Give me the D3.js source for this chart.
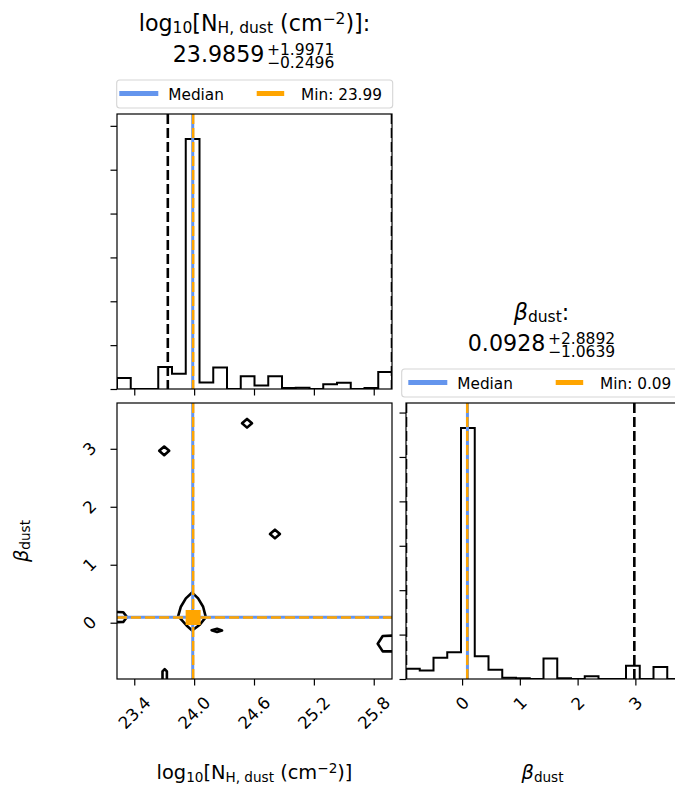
<!DOCTYPE html>
<html><head><meta charset="utf-8">
<script src="https://cdn.jsdelivr.net/npm/d3@7"></script>
<style>
body{margin:0;background:#fff}
svg{display:block}
text{font-family:"DejaVu Sans",sans-serif;fill:#000;white-space:pre}
</style>
</head><body>
<svg id="c" width="675" height="792"></svg>
<script>
// ---------------- data ----------------
const nhRange = [23.227, 25.983];
const betaRange = [-0.971, 3.79];
const nhTicks = [23.4, 24.0, 24.6, 25.2, 25.8];
const betaTicks = [0, 1, 2, 3];
const histYTicks = [0, 1, 2, 3, 4, 5, 6];
// 20-bin step histograms (relative density)
const nhHist = [0.25,0,0,0.50,0.35,5.70,0.15,0.49,0,0.29,0.08,0.29,0.02,0.03,0,0.11,0.14,0,0.02,0.39];
const betaHist = [0.23,0.19,0.48,0.60,5.65,0.51,0.21,0.03,0.015,0,0.46,0.015,0,0.06,0,0,0.30,0,0.27,0];
const nhMedian = 23.9859, nhPlus = 1.9971, nhMinus = 0.2496, nhMin = 23.99;
const betaMedian = 0.0928, betaPlus = 2.8892, betaMinus = 1.0639, betaMin = 0.09;
// 2D contour loops [log10 NH, beta]
const contours = [
  [[23.98,0.52],[24.04,0.42],[24.09,0.276],[24.117,0.097],[24.057,-0.035],[23.98,-0.133],[23.924,-0.047],[23.84,0.115],[23.867,0.276],[23.917,0.42]],
  [[23.65,2.965],[23.70,3.04],[23.75,2.965],[23.70,2.89]],
  [[24.48,3.44],[24.53,3.515],[24.58,3.44],[24.53,3.365]],
  [[24.76,1.53],[24.81,1.605],[24.86,1.53],[24.81,1.455]],
  [[24.175,-0.13],[24.23,-0.105],[24.28,-0.135],[24.23,-0.16]],
  [[23.683,-1.05],[23.683,-0.84],[23.705,-0.80],[23.727,-0.84],[23.727,-1.05]],
  [[23.20,0.185],[23.29,0.18],[23.327,0.097],[23.29,0.012],[23.20,0.01]],
  [[26.01,-0.22],[25.89,-0.23],[25.84,-0.362],[25.89,-0.495],[26.01,-0.495]]
];

// ---------------- layout ----------------
const BLUE = "#6495ED", ORANGE = "#FFA500";
const P1 = {x:117, y:114, w:275, h:275};
const P2 = {x:117, y:403, w:275, h:276};
const P3 = {x:406, y:403, w:275, h:276};
const svg = d3.select("#c");
const TICK = 6.5, TF = 16.7, LF = 19.4, TTF = 22.2, LEGF = 15.3;

const xNH = d3.scaleLinear().domain(nhRange).range([P1.x, P1.x+P1.w]);
const yH1 = d3.scaleLinear().domain([0, 1.1*d3.max(nhHist)]).range([P1.y+P1.h, P1.y]);
const yB = d3.scaleLinear().domain(betaRange).range([P2.y+P2.h, P2.y]);
const xB = d3.scaleLinear().domain(betaRange).range([P3.x, P3.x+P3.w]);
const yH3 = d3.scaleLinear().domain([0, 1.1*d3.max(betaHist)]).range([P3.y+P3.h, P3.y]);

function clip(id, p){
  svg.append("clipPath").attr("id", id).append("rect")
    .attr("x", p.x).attr("y", p.y).attr("width", p.w).attr("height", p.h);
  return svg.append("g").attr("clip-path", `url(#${id})`);
}
function spine(p){
  svg.append("rect").attr("x",p.x).attr("y",p.y).attr("width",p.w).attr("height",p.h)
    .attr("fill","none").attr("stroke","#000").attr("stroke-width",1.2);
}
function ticksBottom(scale, vals, p){
  const ax = d3.axisBottom(scale).tickValues(vals).tickSize(TICK).tickFormat("").tickSizeOuter(0);
  const g = svg.append("g").attr("transform",`translate(0,${p.y+p.h})`).call(ax);
  g.select(".domain").remove();
  g.selectAll("line").attr("stroke","#000").attr("stroke-width",1.2);
}
function ticksLeft(scale, vals, p){
  const ax = d3.axisLeft(scale).tickValues(vals).tickSize(TICK).tickFormat("").tickSizeOuter(0);
  const g = svg.append("g").attr("transform",`translate(${p.x},0)`).call(ax);
  g.select(".domain").remove();
  g.selectAll("line").attr("stroke","#000").attr("stroke-width",1.2);
}
function rotLabel(cx, cy, str, mode){
  // mode 'x': cy is top of rotated bbox ; mode 'y': cx is right of rotated bbox
  const t = svg.append("text").attr("font-size",TF).attr("text-anchor","middle")
    .attr("dy", (0.365*TF).toFixed(2)).text(str);
  const w = t.node().getComputedTextLength();
  const rot = (w + 0.73*TF)*0.7071;
  let x = cx, y = cy;
  if (mode === 'x') y = cy + rot/2; else x = cx - rot/2;
  t.attr("transform", `translate(${x},${y}) rotate(-45)`);
}
function mathText(x, y, parts, size, anchor, rotate){
  const t = svg.append("text").attr("font-size",size).attr("text-anchor",anchor||"middle");
  if (rotate) t.attr("transform",`translate(${x},${y}) rotate(${rotate})`);
  else t.attr("x",x).attr("y",y);
  let cur = 0;
  parts.forEach(([str, kind, style]) => {
    let off = 0, fs = size;
    if (kind === "sub"){ off = 0.12*size; fs = 0.7*size; }
    if (kind === "sup"){ off = -0.31*size; fs = 0.7*size; }
    t.append("tspan").attr("dy", (off-cur).toFixed(2)).attr("font-size", fs)
      .attr("font-style", style || null).text(str);
    cur = off;
  });
}
function pmLine(cx, base, main, sup, sub){
  const tm = svg.append("text").attr("font-size",TTF).text(main);
  const ts = svg.append("text").attr("font-size",0.7*TTF).text(sup);
  const tb = svg.append("text").attr("font-size",0.7*TTF).text(sub);
  const wm = tm.node().getComputedTextLength();
  const ws = Math.max(ts.node().getComputedTextLength(), tb.node().getComputedTextLength());
  const gap = 2.5;
  const x0 = cx - (wm + gap + ws)/2;
  tm.attr("x",x0).attr("y",base);
  ts.attr("x",x0+wm+gap).attr("y",base-0.32*TTF);
  tb.attr("x",x0+wm+gap).attr("y",base+0.26*TTF);
}
function legend(p, boxX, minLabel, offs){
  const top = p.y - 34, w = 276, h = 28;
  svg.append("rect").attr("x",boxX).attr("y",top).attr("width",w).attr("height",h)
    .attr("rx",3).attr("fill","#fff").attr("stroke","#d5d5d5").attr("stroke-width",1.1);
  const ly = top + 13.5;
  svg.append("line").attr("x1",boxX+offs[0]).attr("x2",boxX+offs[0]+39).attr("y1",ly).attr("y2",ly)
    .attr("stroke",BLUE).attr("stroke-width",5);
  svg.append("text").attr("x",boxX+offs[1]).attr("y",top+20).attr("font-size",LEGF).text("Median");
  svg.append("line").attr("x1",boxX+offs[2]).attr("x2",boxX+offs[2]+27.5).attr("y1",ly).attr("y2",ly)
    .attr("stroke",ORANGE).attr("stroke-width",5);
  svg.append("text").attr("x",boxX+offs[3]).attr("y",top+20).attr("font-size",LEGF).text(minLabel);
}
function stepPath(vals, range, xs, ys){
  const n = vals.length, step = (range[1]-range[0])/n;
  const pts = [[range[0],0]];
  vals.forEach((v,i)=>{ pts.push([range[0]+i*step, v]); pts.push([range[0]+(i+1)*step, v]); });
  pts.push([range[1],0]);
  return d3.line().x(d=>xs(d[0])).y(d=>ys(d[1]))(pts);
}
function vline(g, x, y0, y1, color, w, dash){
  g.append("line").attr("x1",x).attr("x2",x).attr("y1",y0).attr("y2",y1)
    .attr("stroke",color).attr("stroke-width",w).attr("stroke-dasharray",dash||null);
}
function hline(g, y, x0, x1, color, w, dash){
  g.append("line").attr("x1",x0).attr("x2",x1).attr("y1",y).attr("y2",y)
    .attr("stroke",color).attr("stroke-width",w).attr("stroke-dasharray",dash||null);
}
const DASH = "10,4";

// ---------------- panel 1: NH histogram ----------------
{
  const g = clip("c1", P1);
  g.append("path").attr("d", stepPath(nhHist, nhRange, xNH, yH1))
    .attr("fill","none").attr("stroke","#000").attr("stroke-width",2);
  [nhMedian-nhMinus, nhMedian+nhPlus].forEach(v =>
    vline(g, xNH(v), P1.y, P1.y+P1.h, "#000", 2.6, DASH));
  vline(g, xNH(nhMedian), P1.y, P1.y+P1.h, BLUE, 3);
  vline(g, xNH(nhMin), P1.y, P1.y+P1.h, ORANGE, 2.5, DASH);
  spine(P1);
  ticksBottom(xNH, nhTicks, P1);
  ticksLeft(yH1, histYTicks, P1);
}
// ---------------- panel 2: 2D ----------------
{
  const g = clip("c2", P2);
  const line = d3.line().x(d=>xNH(d[0])).y(d=>yB(d[1])).curve(d3.curveLinearClosed);
  contours.forEach(c => g.append("path").attr("d", line(c))
    .attr("fill","none").attr("stroke","#000").attr("stroke-width",2.6).attr("stroke-linejoin","round"));
  vline(g, xNH(nhMedian), P2.y, P2.y+P2.h, BLUE, 3);
  hline(g, yB(betaMedian), P2.x, P2.x+P2.w, BLUE, 3);
  vline(g, xNH(nhMin), P2.y, P2.y+P2.h, ORANGE, 2.5, DASH);
  hline(g, yB(betaMin), P2.x, P2.x+P2.w, ORANGE, 2.5, DASH);
  g.append("rect").attr("x", xNH(nhMin)-7.5).attr("y", yB(betaMin)-7.5)
    .attr("width",15).attr("height",15).attr("fill",ORANGE);
  spine(P2);
  ticksBottom(xNH, nhTicks, P2);
  ticksLeft(yB, betaTicks, P2);
  nhTicks.forEach(v => rotLabel(xNH(v), P2.y+P2.h+16, d3.format(".1f")(v), 'x'));
  betaTicks.forEach(v => rotLabel(97.5, yB(v), String(v), 'y'));
}
// ---------------- panel 3: beta histogram ----------------
{
  const g = clip("c3", P3);
  g.append("path").attr("d", stepPath(betaHist, betaRange, xB, yH3))
    .attr("fill","none").attr("stroke","#000").attr("stroke-width",2);
  [betaMedian-betaMinus, betaMedian+betaPlus].forEach(v =>
    vline(g, xB(v), P3.y, P3.y+P3.h, "#000", 2.6, DASH));
  vline(g, xB(betaMedian), P3.y, P3.y+P3.h, BLUE, 3);
  vline(g, xB(betaMin), P3.y, P3.y+P3.h, ORANGE, 2.5, DASH);
  spine(P3);
  ticksBottom(xB, betaTicks, P3);
  ticksLeft(yH3, histYTicks, P3);
  betaTicks.forEach(v => rotLabel(xB(v), P3.y+P3.h+16, String(v), 'x'));
}
// ---------------- titles, legends, labels ----------------
mathText(P1.x+P1.w/2, P1.y-83.3, [["log"],["10","sub"],["[N"],["H, dust","sub"],[" (cm"],["\u22122","sup"],[")]:"]], TTF);
pmLine(P1.x+P1.w/2 - 1, P1.y-52, nhMedian.toFixed(4), "+"+nhPlus.toFixed(4), "\u2212"+nhMinus.toFixed(4));
legend(P1, 116.7, "Min: " + nhMin.toFixed(2), [2.6, 51.6, 140, 184.3]);

mathText(P3.x+P3.w/2 - 2, P3.y-83.3, [["\u03b2",null,"italic"],["dust","sub"],[":"]], TTF);
pmLine(P3.x+P3.w/2 - 2, P3.y-52, betaMedian.toFixed(4), "+"+betaPlus.toFixed(4), "\u2212"+betaMinus.toFixed(4));
legend(P3, 401.7, "Min: " + betaMin.toFixed(2), [6.6, 55.6, 154, 198.3]);

mathText(P2.x+P2.w/2, 779.3, [["log"],["10","sub"],["[N"],["H, dust","sub"],[" (cm"],["\u22122","sup"],[")]"]], LF);
mathText(P3.x+P3.w/2 - 1, 779.3, [["\u03b2",null,"italic"],["dust","sub"]], LF);
mathText(28, P2.y+P2.h/2, [["\u03b2",null,"italic"],["dust","sub"]], LF, "middle", -90);
</script>
</body></html>
